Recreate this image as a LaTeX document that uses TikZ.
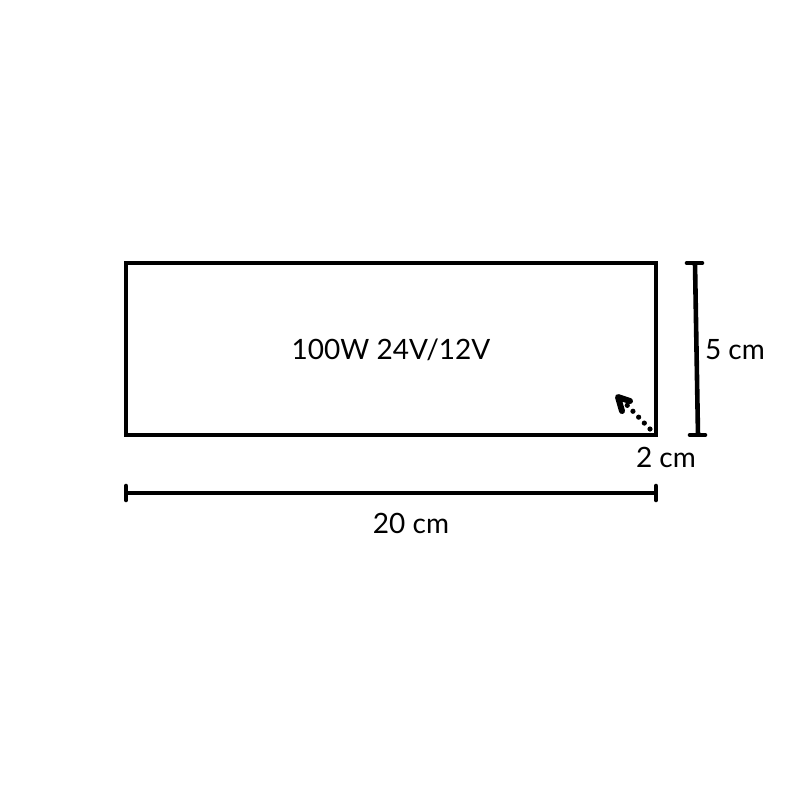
\documentclass[tikz,border=0pt]{standalone}
\usepackage{fontspec}
\setmainfont{Lato}
\usetikzlibrary{arrows.meta}

\begin{document}
\begin{tikzpicture}[x=0.5pt, y=-0.5pt, line width=2.3pt,
    lbl/.style={inner sep=0pt, font=\fontsize{14}{16}\selectfont}]
    \useasboundingbox (0, 0) rectangle (800, 800);
    \coordinate (tl) at (126, 263);
    \coordinate (br) at (656, 435);
    \draw (tl) rectangle (br);
    \node[lbl] (name) at (391, 350) {100W 24V/12V};
    % height
    \coordinate (h0) at (695, 263);
    \coordinate (h1) at (698, 435);
    \draw (h0) -- (h1);
    \draw[line cap=round] (687, 263) -- (702, 263);
    \draw[line cap=round] (690, 435) -- (705, 435);
    \node[lbl] (height) at (735, 350) {5 cm};
    % width
    \coordinate (w0) at (126, 493);
    \coordinate (w1) at (656, 493);
    \draw (w0) -- (w1);
    \draw[line cap=round] (126, 486) -- (126, 500);
    \draw[line cap=round] (656, 486) -- (656, 500);
    \node[lbl] (width) at (411, 523) {20 cm};
    % corner
    \coordinate (c0) at (650, 429);
    \coordinate (c1) at (626, 404);
    \coordinate (tip) at (618, 397);
    \draw[line width=2.6pt, dash pattern=on 0pt off 4.1pt, line cap=round] (c0) -- (c1);
    \draw[line width=3pt, line join=round, line cap=round] (630, 401) -- (tip) -- (622, 411);
    \node[lbl] (radius) at (666, 457) {2 cm};
\end{tikzpicture}
\end{document}
